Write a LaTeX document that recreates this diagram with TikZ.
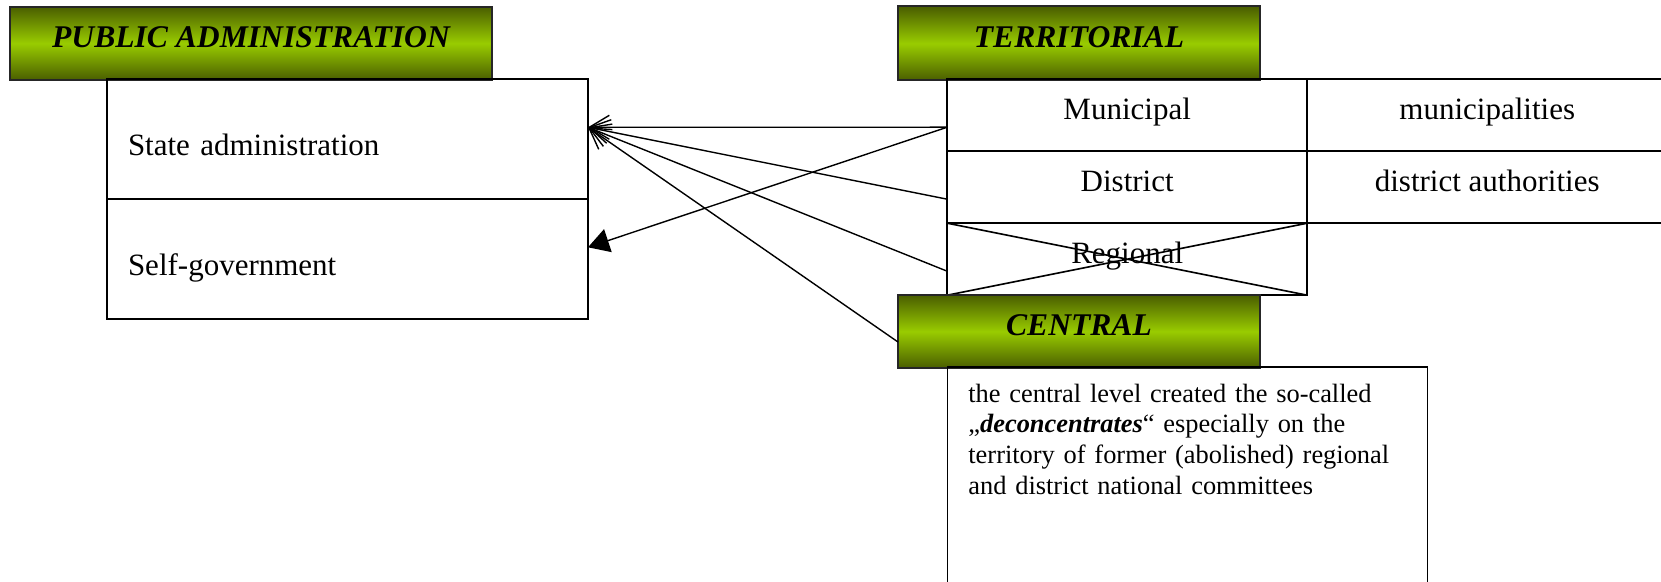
\documentclass[tikz,border=0pt]{standalone}
\usepackage{fontspec}
\setmainfont{Liberation Serif}
\usetikzlibrary{arrows.meta,positioning}
\definecolor{olivedark}{RGB}{74,94,0}
\definecolor{limegreen}{RGB}{153,204,0}
\tikzset{
    %Define standard arrow tip
    >={Straight Barb[length=10pt,width=12pt]},
    %Define style for green headers
    header/.style={
           rectangle,
           draw=black!85, line width=1pt,
           minimum width=181pt,
           minimum height=37pt,
           inner sep=0pt, outer sep=0pt,
           top color=olivedark, bottom color=olivedark,
           middle color=limegreen,
           font=\fontsize{15.8}{18}\selectfont\bfseries\itshape,
           text height=10.3pt, text depth=6.5pt},
    %Define style for table cells
    cell/.style={
           rectangle,
           draw=black, line width=0.8pt,
           minimum width=180pt,
           minimum height=36pt,
           inner sep=0pt, outer sep=0pt,
           font=\fontsize{15.5}{18}\selectfont,
           text height=10.3pt, text depth=6pt,
           text centered},
    %Define style for the two kinds of administration
    kindbox/.style={
           rectangle,
           draw=black, line width=0.8pt,
           minimum height=60pt,
           text width=219.5pt, align=left,
           inner xsep=10.5pt, inner ysep=0pt, outer sep=0pt,
           font=\fontsize{15.5}{18}\selectfont,
           text height=16.3pt, text depth=0pt},
    notebox/.style={
           rectangle,
           draw=black, line width=0.8pt,
           minimum width=240pt,
           minimum height=130pt,
           inner sep=0pt, outer sep=0pt},
    notetext/.style={
           text width=219.5pt, align=left,
           inner xsep=10.25pt, inner ysep=8pt,
           font=\fontsize{13.2}{15.35}\selectfont},
    % Define arrow styles
    pil/.style={
           ->,
           line width=0.7pt},
    fullpil/.style={
           -{Triangle[length=10.5pt,width=12pt]},
           line width=0.7pt}
}
\begin{document}
\begin{tikzpicture}[x=0.5pt,y=-0.5pt,node distance=0pt]
\useasboundingbox (0,0) rectangle (1661,582);
% public administration
\node[header, minimum width=241pt, minimum height=36.7pt](pa) at (251,43.3){PUBLIC ADMINISTRATION};
\node[kindbox](state) at (347.5,139.3){State administration};
\node[kindbox, below=of state](self){Self-government};
% territorial levels
\node[header](ter) at (1079,43.5){TERRITORIAL};
\node[cell](mun) at (1127.2,115.2){Municipal};
\node[cell, right=of mun](munr){municipalities};
\node[cell, below=of mun](dist){District};
\node[cell, right=of dist](distr){district authorities};
\node[cell, below=of dist](reg){Regional};
\draw[line width=0.8pt] (reg.north west) -- (reg.south east)
    (reg.south west) -- (reg.north east);
% central level
\node[header, minimum height=36.5pt](cen) at (1079,331.5){CENTRAL};
\node[notebox, anchor=north west](note) at (947.5,367.3){};
\node[notetext, anchor=north west](notetxt) at (note.north west){the central level created the so-called\\
„\textbf{\textit{deconcentrates}}“ especially on the\\
territory of former (abolished) regional\\
and district national committees};
 \path[pil]
    ([yshift=-6pt]mun.west) edge ([yshift=6pt]state.east)
    ([yshift=-6pt]dist.west) edge ([yshift=6pt]state.east)
    ([yshift=-6pt]reg.west) edge ([yshift=6pt]state.east)
    ([yshift=-5.25pt]cen.west) edge ([yshift=6pt]state.east);
 \path[fullpil]
    ([yshift=-6pt]mun.west) edge ([yshift=6pt]self.east);
\end{tikzpicture}
\end{document}
